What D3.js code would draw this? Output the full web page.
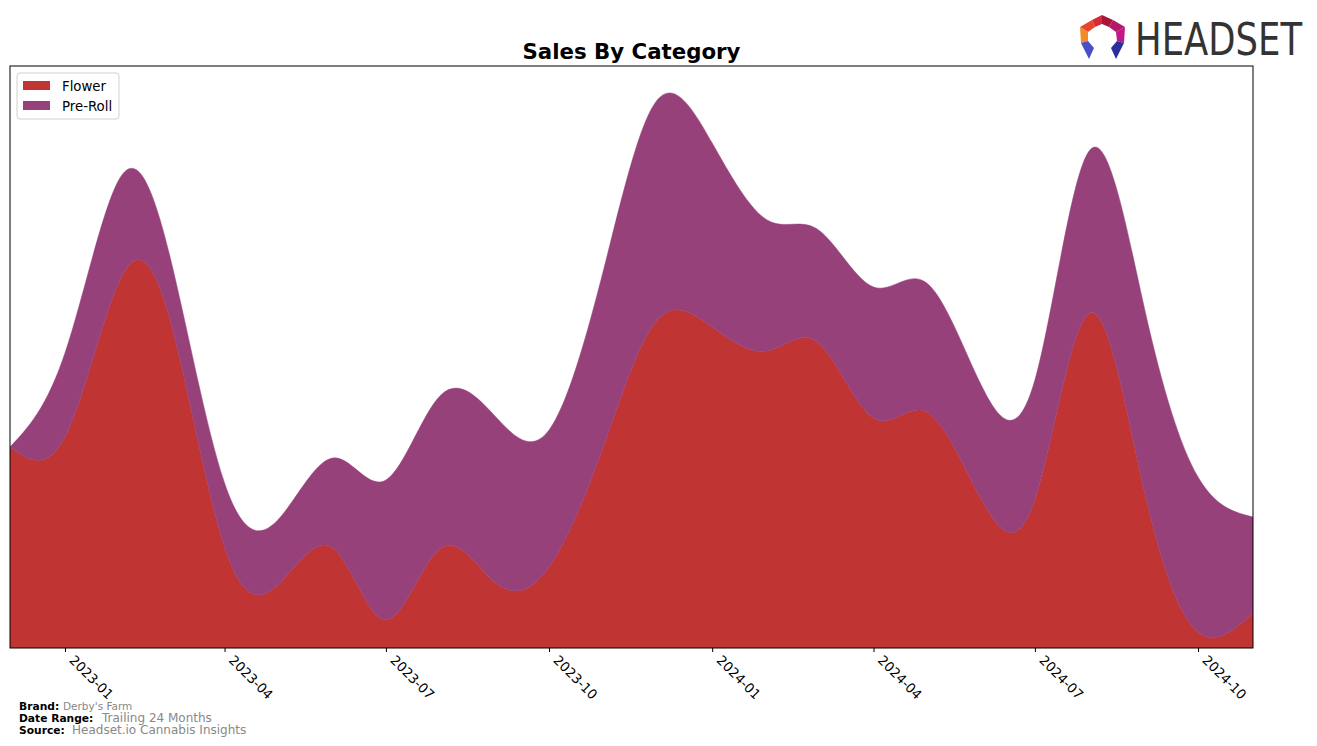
<!DOCTYPE html>
<html>
<head>
<meta charset="utf-8">
<script src="https://cdn.jsdelivr.net/npm/d3@7"></script>
<style>
  html, body { margin: 0; padding: 0; background: #fff; }
  svg { display: block; font-family: "DejaVu Sans", sans-serif; }
</style>
</head>
<body>
<svg id="chart" width="1317" height="746"></svg>
<script>
// ---- data ----
const months = ["2022-12","2023-01","2023-02","2023-03","2023-04","2023-05","2023-06","2023-07","2023-08","2023-09","2023-10","2023-11","2023-12","2024-01","2024-02","2024-03","2024-04","2024-05","2024-06","2024-07","2024-08","2024-09","2024-10","2024-11"];
const flower = [201, 211, 368, 330, 101, 63, 100, 28, 100, 65, 81, 203, 328, 321, 297, 305, 230, 236, 148, 148, 335, 155, 16, 35];
const preRoll = [0, 84, 102, 63, 64, 65, 90, 140, 153, 166, 137, 177, 220, 184, 131, 113, 131, 129, 114, 120, 163, 183, 155, 96];
const seriesNames = ["Flower", "Pre-Roll"];
const seriesColors = ["#c13434", "#96417a"];
const tickLabels = ["2023-01","2023-04","2023-07","2023-10","2024-01","2024-04","2024-07","2024-10"];
const yMax = 582;

// ---- layout ----
const svg = d3.select("#chart");
const pL = 10, pR = 1253, pT = 66, pB = 648;
const parse = d3.timeParse("%Y-%m");
const dates = months.map(parse);

const x = d3.scaleTime().domain([dates[0], dates[dates.length - 1]]).range([pL, pR]);
const y = d3.scaleLinear().domain([0, yMax]).range([pB, pT]);

const rows = months.map((m, i) => ({ date: dates[i], "Flower": flower[i], "Pre-Roll": preRoll[i] }));
const stack = d3.stack().keys(seriesNames);
const layers = stack(rows);

svg.append("defs").append("clipPath").attr("id", "clip")
  .append("rect").attr("x", pL).attr("y", pT).attr("width", pR - pL).attr("height", pB - pT);

const area = d3.area()
  .x(d => x(d.data.date))
  .y0(d => y(d[0]))
  .y1(d => y(d[1]))
  .curve(d3.curveNatural);

const g = svg.append("g").attr("clip-path", "url(#clip)");
g.selectAll("path.layer").data(layers).join("path")
  .attr("class", "layer")
  .attr("d", area)
  .attr("fill", (d, i) => seriesColors[i])
  .attr("stroke", (d, i) => seriesColors[i])
  .attr("stroke-width", 0.5);

// frame
svg.append("rect").attr("x", pL).attr("y", pT).attr("width", pR - pL).attr("height", pB - pT)
  .attr("fill", "none").attr("stroke", "#000").attr("stroke-width", 1);

// x axis
const tickDates = tickLabels.map(parse);
const axis = d3.axisBottom(x).tickValues(tickDates).tickFormat(d3.timeFormat("%Y-%m")).tickSize(4).tickSizeOuter(0);
const ax = svg.append("g").attr("transform", `translate(0,${pB})`).call(axis);
ax.select(".domain").remove();
ax.selectAll(".tick line").attr("stroke", "#000");
ax.selectAll(".tick text")
  .attr("fill", "#000")
  .style("font-size", "13.3px")
  .style("font-family", "DejaVu Sans, sans-serif")
  .attr("text-anchor", "start")
  .attr("dy", null)
  .attr("y", 0)
  .attr("transform", "translate(3,13) rotate(45)");

// title
svg.append("text").attr("x", 631.5).attr("y", 59).attr("text-anchor", "middle")
  .style("font-size", "21.3px").style("font-weight", "bold").text("Sales By Category");

// legend
const lg = svg.append("g").attr("transform", "translate(17,73)");
lg.append("rect").attr("width", 102).attr("height", 46).attr("rx", 3)
  .attr("fill", "#fff").attr("stroke", "#d0d0d0").attr("stroke-width", 1);
seriesNames.forEach((name, i) => {
  lg.append("rect").attr("x", 6).attr("y", 8 + i * 20).attr("width", 27).attr("height", 9).attr("fill", seriesColors[i]);
  lg.append("text").attr("x", 45).attr("y", 17.5 + i * 20).style("font-size", "13.3px").attr("fill", "#000").text(name);
});

// footer
const foot = [
  ["Brand:", "Derby's Farm", 710, 10.5, 63],
  ["Date Range:", "Trailing 24 Months", 722, 12, 102],
  ["Source:", "Headset.io Cannabis Insights", 734, 12, 72]
];
foot.forEach(([k, v, yy, fs, vx]) => {
  svg.append("text").attr("x", 19).attr("y", yy).style("font-size", "10.7px")
    .style("font-weight", "bold").attr("fill", "#000").text(k);
  svg.append("text").attr("x", vx).attr("y", yy).style("font-size", fs + "px")
    .attr("fill", "#888").text(v);
});

// logo
const logo = svg.append("g").attr("transform", "translate(1080,15)");
const segs = [
  {pts: [[12,5],[22,0],[22,9],[15,12]], c: "#d42a3a"},
  {pts: [[22,0],[33,5],[29,12],[22,9]], c: "#a8173a"},
  {pts: [[33,5],[45,12],[36,17],[29,12]], c: "#b5176a"},
  {pts: [[45,12],[44,28],[37,26],[36,17]], c: "#c4178a"},
  {pts: [[12,5],[0,12],[8,17],[15,12]], c: "#e8452f"},
  {pts: [[0,12],[1,28],[8,26],[8,17]], c: "#f28a2a"},
  {pts: [[1,28],[8,26],[14,33],[9,44]], c: "#4a4fc8"},
  {pts: [[44,28],[37,26],[31,33],[36,44]], c: "#2b2f9a"}
];
segs.forEach(s => logo.append("polygon").attr("points", s.pts.map(p => p.join(",")).join(" ")).attr("fill", s.c));
logo.append("text").attr("x", 55).attr("y", 40).attr("textLength", 167).attr("lengthAdjust", "spacingAndGlyphs")
  .style("font-family", "'Liberation Sans Narrow', 'DejaVu Sans Condensed', sans-serif")
  .style("font-size", "44px").attr("fill", "#333").text("HEADSET");
</script>
</body>
</html>
